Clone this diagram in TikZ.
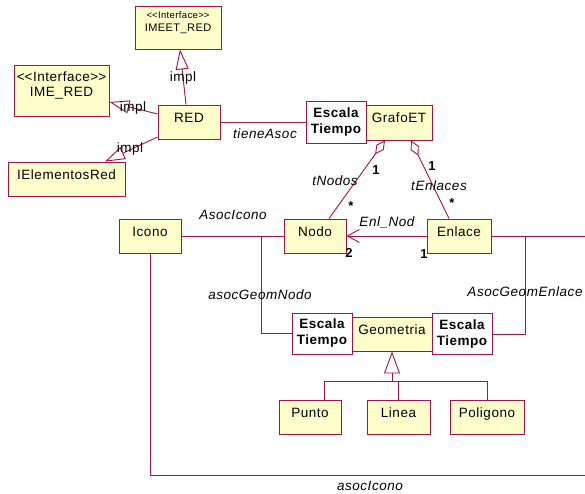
\documentclass[tikz,border=0pt]{standalone}
\usepackage{fontspec}
\setmainfont{Liberation Sans}[LetterSpace=4]
\usetikzlibrary{arrows.meta}
\definecolor{umlline}{RGB}{160,20,70}
\definecolor{umlfill}{RGB}{255,255,204}
\newcommand{\stereo}{\textless\kern0pt\textless Interface\textgreater\kern0pt\textgreater}
\tikzset{
  cls/.style={draw=umlline, fill=umlfill, line width=0.9pt, inner sep=0pt,
    text height=10pt, text depth=10pt, font=\fontsize{13.5}{15}\selectfont},
  ibox/.style={draw=umlline, fill=umlfill, line width=0.9pt, inner sep=0pt},
  esc/.style={draw=umlline, fill=white, line width=0.9pt, inner sep=0pt, align=center,
    minimum width=60pt, minimum height=41pt, font=\fontsize{13.5}{16}\selectfont\bfseries},
  conn/.style={draw=umlline, line width=0.9pt},
  lbl/.style={font=\fontsize{13.5}{15}\selectfont\itshape, inner sep=0pt},
  plain/.style={font=\fontsize{13.5}{15}\selectfont, inner sep=0pt},
  mult/.style={font=\fontsize{13}{15}\selectfont\bfseries, inner sep=0pt},
  realize/.style={-{Triangle[open, length=20pt, width=13pt]}},
}
\begin{document}
\begin{tikzpicture}[x=1pt, y=-1pt]
\useasboundingbox (0,0) rectangle (585,493);
% classes
\node[ibox, minimum width=86pt, minimum height=43pt] (imeet) at (178,27.5) {};
\node[align=center, inner sep=0pt] (imeetT) at ([yshift=5pt]imeet.center)
  {{\fontsize{9.5}{11}\selectfont\stereo}\\[1pt]{\fontsize{11}{13}\selectfont IMEET\_RED}};
\node[ibox, minimum width=95pt, minimum height=51pt] (imered) at (61.5,90.5) {};
\node[align=center, inner sep=0pt, font=\fontsize{13.5}{15.5}\selectfont] (imeredT) at ([yshift=5pt]imered.center)
  {\stereo\\IME\_RED};
\node[cls, minimum width=62pt, minimum height=34pt] (red) at (189,122) {RED};
\node[cls, minimum width=117pt, minimum height=34pt] (ielem) at (66.5,179) {IElementosRed};
\node[esc, minimum height=42pt] (escTop) at (336,122) {Escala\\Tiempo};
\node[cls, minimum width=66pt, minimum height=35pt] (grafo) at (399,122.5) {GrafoET};
\node[cls, minimum width=62pt, minimum height=34pt] (nodo) at (315,236) {Nodo};
\node[cls, minimum width=64pt, minimum height=34pt] (enlace) at (459,236) {Enlace};
\node[cls, minimum width=62pt, minimum height=34pt] (icono) at (150,236) {Icono};
\node[cls, minimum width=80pt, minimum height=34pt] (geom) at (392,334) {Geometria};
\node[esc] (escL) at (322,333.5) {Escala\\Tiempo};
\node[esc] (escR) at (462,334) {Escala\\Tiempo};
\node[cls, minimum width=62pt, minimum height=34pt] (punto) at (310,417) {Punto};
\node[cls, minimum width=63pt, minimum height=34pt] (linea) at (398.5,417) {Linea};
\node[cls, minimum width=74pt, minimum height=34pt] (poligono) at (487,417) {Poligono};
% realizations
\draw[conn, realize] ([xshift=-3pt]red.north) -- ([xshift=2pt]imeet.south);
\draw[conn, realize] ([yshift=8pt]red.west) -- ([yshift=-11.5pt]imered.east);
\draw[conn, realize] ([yshift=-15pt]red.west) -- ([xshift=38.5pt]ielem.north);
\node[plain] (impl1) at (183,78) {impl};
\node[plain] (impl2) at (133,108) {impl};
\node[plain] (impl3) at (130,149) {impl};
% tieneAsoc
\draw[conn] (red.east) -- (escTop.west);
\node[lbl] (tieneAsoc) at (265,134) {tieneAsoc};
% aggregations
\draw[conn, {Diamond[open, length=17pt, width=9pt]}-] ([xshift=-14pt]grafo.south) -- ([xshift=14pt]nodo.north);
\draw[conn, {Diamond[open, length=17pt, width=9pt]}-] ([xshift=12pt]grafo.south) -- ([xshift=-10pt]enlace.north);
\node[mult] (m1) at (376,170) {1};
\node[lbl] (tNodos) at (335,181) {tNodos};
\node[mult] (m2) at (351,206) {*};
\node[mult] (m3) at (432,166) {1};
\node[lbl] (tEnlaces) at (439,186) {tEnlaces};
\node[mult] (m4) at (452,203) {*};
% Enl_Nod
\draw[conn, -{Straight Barb[length=12pt, width=13pt]}] (enlace.west) -- (nodo.east);
\node[lbl] (enlnod) at (387,222) {Enl\_Nod};
\node[mult] (m5) at (349,253) {2};
\node[mult] (m6) at (424,254) {1};
% AsocIcono
\draw[conn] (icono.east) -- (nodo.west);
\node[lbl] (asocIcono1) at (233,215) {AsocIcono};
\coordinate (jn) at (261,236);
\draw[conn] (jn) |- (escL.west);
\node[lbl] (agn) at (260,295) {asocGeomNodo};
% Enlace right
\coordinate (rEdge) at (585,236);
\draw[conn] (enlace.east) -- (rEdge);
\coordinate (je) at (525,236);
\draw[conn] (je) |- (escR.east);
\node[lbl] (age) at (525,292) {AsocGeomEnlace};
% Icono bottom
\coordinate (bEdge) at (585,475);
\draw[conn] (icono.south) |- (bEdge);
\node[lbl] (asocIcono2) at (370,486) {asocIcono};
% generalization
\coordinate (gbar) at (392,381);
\draw[conn, -{Triangle[open, length=22pt, width=16pt]}] (gbar) -- (geom.south);
\draw[conn] ([xshift=14pt]punto.north) |- (poligono.north |- gbar) -- (poligono.north);
\draw[conn] (linea.north) -- (linea.north |- gbar);
\end{tikzpicture}
\end{document}
